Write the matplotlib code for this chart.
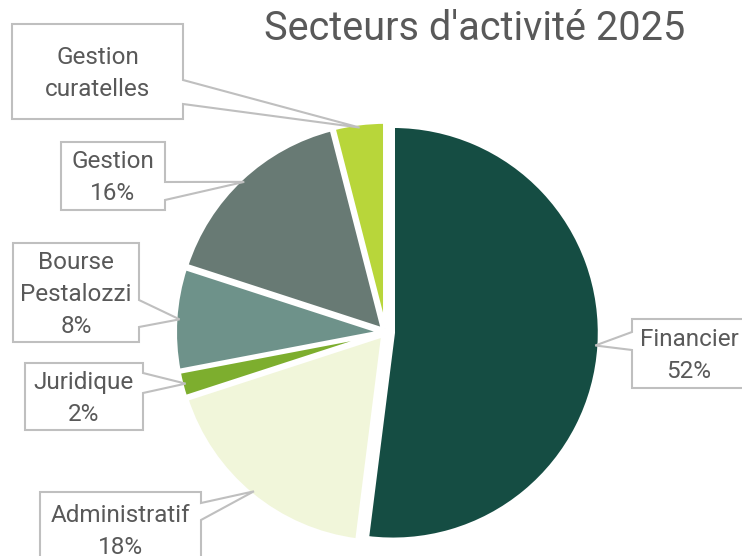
import numpy as np
import matplotlib
matplotlib.use("Agg")
import matplotlib.pyplot as plt
from matplotlib.patches import Polygon

# ---------------- DATA ----------------
secteurs = ["Financier", "Administratif", "Juridique", "Bourse\nPestalozzi", "Gestion", "Gestion\ncuratelles"]
parts = [52, 18, 2, 8, 16, 4]
show_pct = [True, True, True, True, True, False]
couleurs = ["#154d43", "#f1f6da", "#7dae2e", "#6e928a", "#687a74", "#b8d63a"]
titre = "Secteurs d'activité 2025"

# ---------------- LAYOUT (pixels, y down) ----------------
W, H = 742, 556
CENTRE = (385.5, 332.3)
RAYON = 206.8
ECART = [7.5, 3.7, 3.7, 3.7, 3.7, 3.7]
# box: x0, y0, x1, y1, side of the pointer, pointer base start, pointer base end
boites = [
    (632, 319, 746, 388, "left", 332, 350),
    (40, 492, 201, 566, "right", 503, 520),
    (25, 363, 143, 430, "right", 373, 393),
    (13, 243, 139, 342, "right", 300, 327),
    (61, 142, 165, 210, "right", 182, 200),
    (12, 24, 183, 119, "right", 80, 104),
]

TXT = "#595959"
BORD = "#bfbfbf"
plt.rcParams["font.family"] = ["Roboto", "DejaVu Sans"]

fig = plt.figure(figsize=(W / 100, H / 100), dpi=100)
ax = fig.add_axes([0, 0, 1, 1])


def yy(y):
    return H - y


# explode is an absolute offset in data units (here pixels)
wedges, _ = ax.pie(parts, colors=couleurs, startangle=90, counterclock=False,
                   explode=ECART, radius=RAYON,
                   center=(CENTRE[0], yy(CENTRE[1])),
                   wedgeprops=dict(linewidth=2.9, edgecolor="white"))

ax.set_xlim(0, W)
ax.set_ylim(0, H)
ax.set_aspect("equal")
ax.axis("off")

for w, nom, p, pct, (x0, y0, x1, y1, cote, b0, b1) in zip(wedges, secteurs, parts, show_pct, boites):
    ang = np.deg2rad((w.theta1 + w.theta2) / 2)
    tx = w.center[0] + w.r * 0.98 * np.cos(ang)
    ty = w.center[1] + w.r * 0.98 * np.sin(ang)
    if cote == "right":
        pts = [(x0, y0), (x1, y0), (x1, b0), None, (x1, b1), (x1, y1), (x0, y1)]
    else:
        pts = [(x0, y0), (x1, y0), (x1, y1), (x0, y1), (x0, b1), None, (x0, b0)]
    xy = [(tx, ty) if q is None else (q[0], yy(q[1])) for q in pts]
    ax.add_patch(Polygon(xy, closed=True, facecolor="white", edgecolor=BORD,
                         linewidth=1.5, zorder=3))
    txt = f"{nom}\n{p}%" if pct else nom
    ax.text((x0 + x1) / 2, yy((y0 + y1) / 2 + 2), txt, ha="center", va="center",
            fontsize=17.5, color=TXT, linespacing=1.5, zorder=4)

ax.text(475, yy(29), titre, ha="center", va="center", fontsize=28.5, color=TXT)

fig.savefig("out.png", dpi=100)
